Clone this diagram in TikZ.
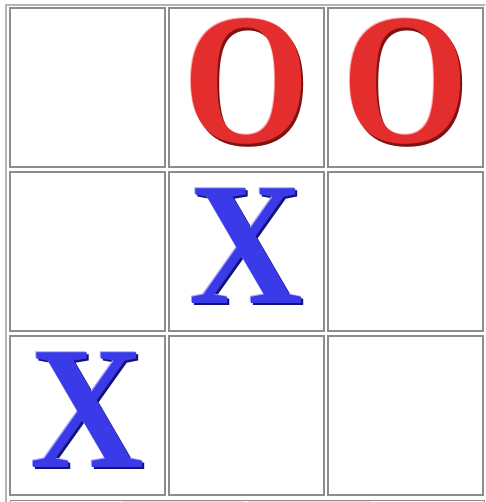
\documentclass[tikz,border=0pt]{standalone}
\usepackage{fontspec}
\setmainfont{Liberation Serif}
\usepackage{graphicx}
\usetikzlibrary{positioning}
\definecolor{ored}{RGB}{228,46,46}
\definecolor{oreddark}{RGB}{130,18,18}
\definecolor{oredlight}{RGB}{255,175,175}
\definecolor{xblue}{RGB}{58,58,232}
\definecolor{xbluedark}{RGB}{18,18,120}
\definecolor{xbluelight}{RGB}{170,170,255}
\definecolor{gridline}{HTML}{8C8C8C}
\definecolor{frameline}{HTML}{B4B4B4}

% embossed letter: width, height, letter, main, dark, light
\newcommand{\embossed}[6]{\resizebox{#1}{#2}{\bfseries
  \rlap{\raisebox{-0.012em}{\hspace{0.012em}\color{#5}#3}}%
  \rlap{\raisebox{0.007em}{\hspace{-0.007em}\color{#6}#3}}%
  \color{#4}#3}}

\begin{document}
\begin{tikzpicture}[x=1pt, y=-1pt,
  cell/.style={rectangle, draw=gridline, line width=1.4pt, fill=white, minimum width=155pt, minimum height=159pt, inner sep=0pt},
  omark/.style={inner sep=0pt, yshift=5pt},
  xmark/.style={inner sep=0pt, yshift=5pt}
]
  \useasboundingbox (0,0) rectangle (485,502);
  \clip (0,0) rectangle (485,502);
  \fill[white] (0,0) rectangle (485,502);
  \draw[frameline, line width=1.6pt] (6,5) rectangle (490,510);

  % board
  \node[cell] (c11) at (87.5,87.5)   {};
  \node[cell] (c12) at (246.5,87.5)  {};
  \node[cell] (c13) at (405.5,87.5)  {};
  \node[cell] (c21) at (87.5,251.5)  {};
  \node[cell] (c22) at (246.5,251.5) {};
  \node[cell] (c23) at (405.5,251.5) {};
  \node[cell] (c31) at (87.5,415.5)  {};
  \node[cell] (c32) at (246.5,415.5) {};
  \node[cell] (c33) at (405.5,415.5) {};

  % next table row, cut off at the bottom
  \node[cell, minimum width=474pt, anchor=north west] (next) at (9.5,500) {};
  \fill[gray!20] (122,501) rectangle (243,503);
  \fill[gray!20] (248,501) rectangle (370,503);

  % moves
  \node[omark] (o12) at (c12) {\embossed{126pt}{125pt}{O}{ored}{oreddark}{oredlight}};
  \node[omark] (o13) at (c13) {\embossed{126pt}{125pt}{O}{ored}{oreddark}{oredlight}};
  \node[xmark] (x22) at (c22) {\embossed{114pt}{116pt}{X}{xblue}{xbluedark}{xbluelight}};
  \node[xmark] (x31) at (c31) {\embossed{114pt}{116pt}{X}{xblue}{xbluedark}{xbluelight}};
\end{tikzpicture}
\end{document}
